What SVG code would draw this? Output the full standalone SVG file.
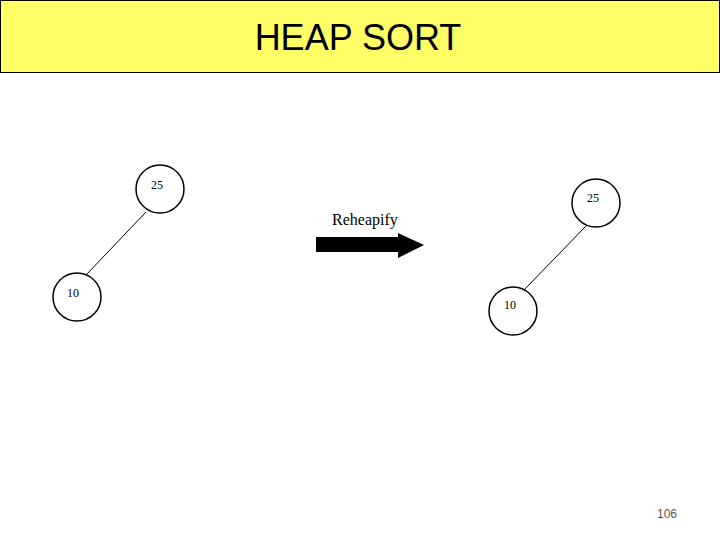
<svg xmlns="http://www.w3.org/2000/svg" width="720" height="540" viewBox="0 0 720 540">
<style>
.n{fill:#fff;stroke:#000;stroke-width:1.5}
.t{font-family:"Liberation Serif",serif;font-size:12px;text-anchor:middle;fill:#000}
.e{stroke:#000;stroke-width:1}
</style>
<rect width="720" height="540" fill="#fff"/>
<g id="header">
<rect x="0.5" y="0.5" width="719" height="72" fill="#ffff66" stroke="#000" stroke-width="1"/>
<text x="358" y="50" font-family="Liberation Sans,sans-serif" font-size="36" text-anchor="middle">HEAP SORT</text>
</g>
<g id="connectors">
<line class="e" x1="146" y1="212" x2="87" y2="274"/>
<line class="e" x1="586" y1="226" x2="524" y2="290"/>
<polygon points="316,237 398,237 398,233 424,245 398,258 398,252 316,252" fill="#000"/>
</g>
<g id="n25a"><circle class="n" cx="160" cy="189" r="24"/><text class="t" x="157" y="189">25</text></g>
<g id="n10a"><circle class="n" cx="77" cy="297" r="24"/><text class="t" x="73" y="297">10</text></g>
<g id="n25b"><circle class="n" cx="596" cy="203" r="24"/><text class="t" x="593" y="202">25</text></g>
<g id="n10b"><circle class="n" cx="513" cy="311" r="24"/><text class="t" x="510" y="309">10</text></g>
<g id="label"><text x="332" y="225" font-family="Liberation Serif,serif" font-size="16">Reheapify</text></g>
<text x="667" y="518" font-family="Liberation Sans,sans-serif" font-size="12" fill="#555" text-anchor="middle">106</text>
</svg>
